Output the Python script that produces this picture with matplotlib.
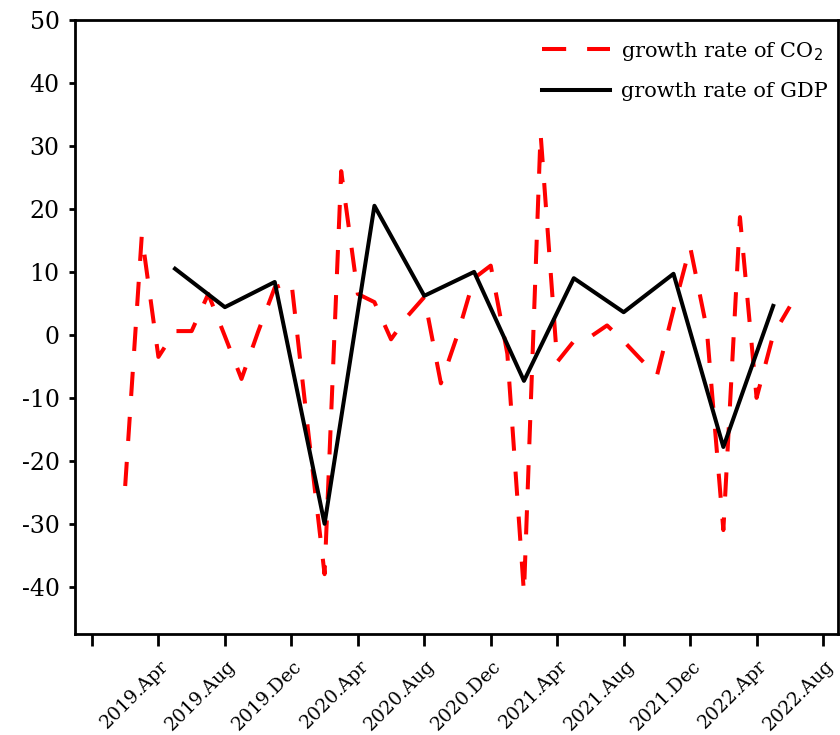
import numpy as np
import pandas as pd
import matplotlib
matplotlib.use("Agg")
import matplotlib.pyplot as plt
from matplotlib.transforms import ScaledTranslation

plt.rcParams["font.family"] = "DejaVu Serif"
plt.rcParams["axes.unicode_minus"] = False

# monthly growth rate of CO2 (%), Feb 2019 .. Jun 2022
co2_months = pd.date_range("2019-02", "2022-06", freq="MS")
co2_rate = [-24, 15.8, -3.5, 0.6, 0.6, 6.5, -0.2, -7, 0.5, 7.5,
            8.5, -15, -38, 26, 6.5, 5.2, -0.7, 3, 6, -7.7,
            0, 9, 11, -3, -41, 32, -4.3, -1, -0.3, 1.5,
            -1, -3.8, -6.5, 4, 14, 1, -31, 18.7, -10, 0, 4.5]

# quarterly growth rate of GDP (%)
gdp_months = pd.date_range("2019-05", "2022-05", freq="3MS")
gdp_rate = [10.5, 4.4, 8.4, -30, 20.5, 6.2, 10, -7.3, 9, 3.6, 9.7, -17.8, 4.6]

tick_months = pd.date_range("2018-12", "2022-08", freq="4MS")
tick_labels = ["", "2019.Apr", "2019.Aug", "2019.Dec", "2020.Apr", "2020.Aug",
               "2020.Dec", "2021.Apr", "2021.Aug", "2021.Dec", "2022.Apr", "2022.Aug"]


def month_index(d):
    # months counted from Dec 2018
    return (d.year - 2018) * 12 + d.month - 12


fig = plt.figure(figsize=(8.4, 7.35), dpi=100)
ax = fig.add_axes([75 / 840, 101 / 735, 763 / 840, 614 / 735])

ax.plot(month_index(co2_months), co2_rate, color="red", lw=2.9,
        dashes=(6, 5.2), label="growth rate of CO$_2$")
ax.plot(month_index(gdp_months), gdp_rate, color="black", lw=2.9,
        label="growth rate of GDP")

ax.set_xlim(-1.02, 44.9)
ax.set_ylim(-47.5, 50)
ax.set_yticks(np.arange(-40, 51, 10))
ax.set_xticks(month_index(tick_months))
ax.set_xticklabels(tick_labels, rotation=45, ha="right", fontsize=13.5)

for sp in ax.spines.values():
    sp.set_linewidth(2)
ax.tick_params(axis="x", length=8.5, width=2, pad=8)
ax.tick_params(axis="y", length=4, width=2, pad=7, labelsize=17)

# labels sit a little right of their ticks
offset = ScaledTranslation(14 / 100, 0, fig.dpi_scale_trans)
for lab in ax.get_xticklabels():
    lab.set_transform(lab.get_transform() + offset)

ax.legend(loc="upper right", bbox_to_anchor=(1.0, 0.985), frameon=False,
          handlelength=3.3, handletextpad=0.5, labelspacing=0.95,
          borderaxespad=0.1, fontsize=15)

fig.savefig("out.png", dpi=100)
